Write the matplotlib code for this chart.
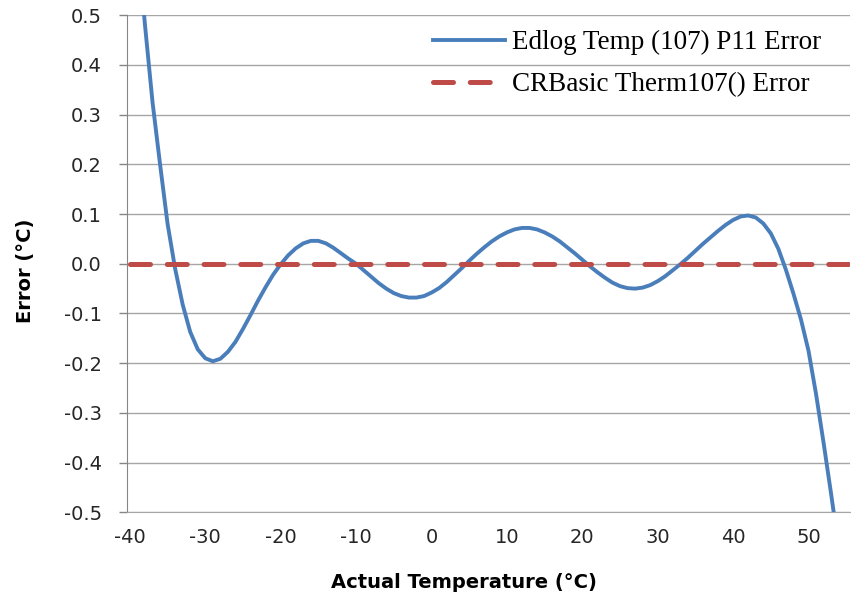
import numpy as np
import matplotlib
matplotlib.use('Agg')
import matplotlib.pyplot as plt

plt.rcParams['axes.unicode_minus'] = False

# Edlog curve, one point per degree
temps = list(range(-40, 55))
edlog_err = [0.84, 0.65, 0.48, 0.325, 0.200, 0.080, -0.010, -0.082, -0.137, -0.172,
             -0.190, -0.196, -0.191, -0.177, -0.157, -0.131, -0.103, -0.074, -0.047, -0.022,
             -0.001, 0.017, 0.031, 0.041, 0.046, 0.046, 0.041, 0.032, 0.021, 0.010,
             0.000, -0.013, -0.026, -0.039, -0.050, -0.059, -0.065, -0.068, -0.068, -0.065,
             -0.058, -0.049, -0.037, -0.023, -0.009, 0.006, 0.020, 0.033, 0.045, 0.055,
             0.063, 0.069, 0.072, 0.072, 0.069, 0.063, 0.055, 0.045, 0.033, 0.021,
             0.008, -0.005, -0.017, -0.028, -0.038, -0.045, -0.049, -0.050, -0.048, -0.043,
             -0.035, -0.025, -0.013, -0.001, 0.012, 0.026, 0.040, 0.053, 0.066, 0.078,
             0.088, 0.095, 0.097, 0.093, 0.081, 0.061, 0.030, -0.012, -0.060, -0.112,
             -0.175, -0.262, -0.360, -0.463, -0.570]

crbasic_temps = [-40, -32, -24, -16, -8, 0, 8, 16, 24, 32, 40, 48, 56]
crbasic_err = [0.0, 0.0, 0.0, 0.0, 0.0, 0.0, 0.0, 0.0, 0.0, 0.0, 0.0, 0.0, 0.0]

xticks = [-40, -30, -20, -10, 0, 10, 20, 30, 40, 50]
yticks = [-0.5, -0.4, -0.3, -0.2, -0.1, 0.0, 0.1, 0.2, 0.3, 0.4, 0.5]

fig = plt.figure(figsize=(8.51, 6.03), dpi=100)
ax = fig.add_axes([0.1498, 0.1501, 0.849, 0.8250])

ax.plot(temps, edlog_err, color='#4A7EBB', lw=2.8, solid_joinstyle='round',
        label='Edlog Temp (107) P11 Error', zorder=3)
ax.plot(crbasic_temps, crbasic_err, color='#BE4B48', lw=3.6, dashes=(4.0, 3.35),
        dash_capstyle='round', label='CRBasic Therm107() Error', zorder=4)

ax.set_xlim(-40.32, 55.5)
ax.set_ylim(-0.5, 0.5)
ax.set_xticks(xticks)
ax.set_yticks(yticks)
ax.set_yticklabels(['%.1f' % v for v in yticks])
ax.yaxis.grid(True, color='#A6A6A6', lw=1.0)
ax.set_axisbelow(True)

for s in ['top', 'right']:
    ax.spines[s].set_visible(False)
ax.spines['left'].set_color('#868686')
ax.spines['bottom'].set_color('#A6A6A6')

ax.tick_params(axis='x', length=0, pad=11, labelsize=14, labelcolor='#262626')
ax.tick_params(axis='y', length=6, width=1, color='#868686', pad=12.5,
               labelsize=14, labelcolor='#262626')

fig.text(464 / 851, 1 - 583 / 603, 'Actual Temperature (°C)', fontsize=14,
         fontweight='bold', ha='center', va='center')
fig.text(25 / 851, 1 - 271 / 603, 'Error (°C)', fontsize=14, fontweight='bold',
         rotation=90, ha='center', va='center')

ax.legend(loc='upper left', bbox_to_anchor=(433 / 851, 1 - 30 / 603),
          bbox_transform=fig.transFigure, frameon=False, borderpad=0,
          borderaxespad=0, handlelength=2.66, handletextpad=0.25,
          labelspacing=0.63, prop={'family': 'Liberation Serif', 'size': 19.5})

fig.savefig('out.png', dpi=100)
